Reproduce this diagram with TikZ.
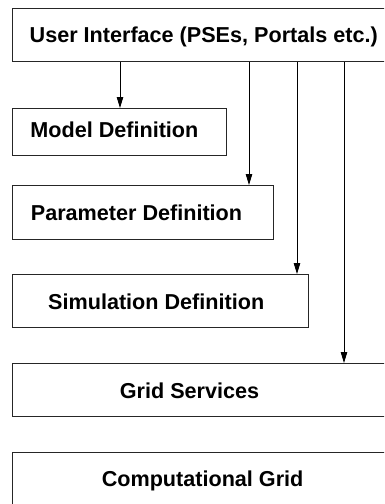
\documentclass[tikz,border=0pt]{standalone}
\usepackage{fontspec}
\setmainfont{Liberation Sans}
\usetikzlibrary{arrows.meta}
\begin{document}
\begin{tikzpicture}[x=1pt,y=-1pt,
  box/.style={draw=black!85, line width=1pt, rectangle, inner sep=0pt, anchor=north west},
  lbl/.style={anchor=base west, inner sep=0pt, font=\bfseries\fontsize{21.6}{26}\selectfont},
  arr/.style={-{Triangle[length=11pt,width=6.5pt]}, line width=0.9pt}]
  \useasboundingbox (0,0) rectangle (384,504);
  \begin{scope}
    \clip (0,0) rectangle (384,504);
    % layered boxes
    \node[box, minimum width=390pt, minimum height=53pt] (ui) at (12,8) {};
    \node[box, minimum width=214pt, minimum height=47pt] (md) at (12,108) {};
    \node[box, minimum width=261pt, minimum height=54pt] (pd) at (12,185) {};
    \node[box, minimum width=296pt, minimum height=53pt] (sd) at (12,274) {};
    \node[box, minimum width=390pt, minimum height=53pt] (gs) at (12,363) {};
    \node[box, minimum width=390pt, minimum height=54pt] (cg) at (12,452) {};
    % labels
    \node[lbl] (tui) at (29.5,42.7) {User Interface (PSEs, Portals etc.)};
    \node[lbl] (tmd) at (30.2,137.7) {Model Definition};
    \node[lbl] (tpd) at (30.7,220.7) {Parameter Definition};
    \node[lbl] (tsd) at (48,309) {Simulation Definition};
    \node[lbl] (tgs) at (119.7,398.3) {Grid Services};
    \node[lbl] (tcg) at (101.6,486.7) {Computational Grid};
    % arrow columns
    \coordinate (c1) at (120,0);
    \coordinate (c2) at (249,0);
    \coordinate (c3) at (297,0);
    \coordinate (c4) at (344,0);
    \draw[arr] (ui.south -| c1) -- (md.north -| c1);
    \draw[arr] (ui.south -| c2) -- (pd.north -| c2);
    \draw[arr] (ui.south -| c3) -- (sd.north -| c3);
    \draw[arr] (ui.south -| c4) -- (gs.north -| c4);
  \end{scope}
\end{tikzpicture}
\end{document}
